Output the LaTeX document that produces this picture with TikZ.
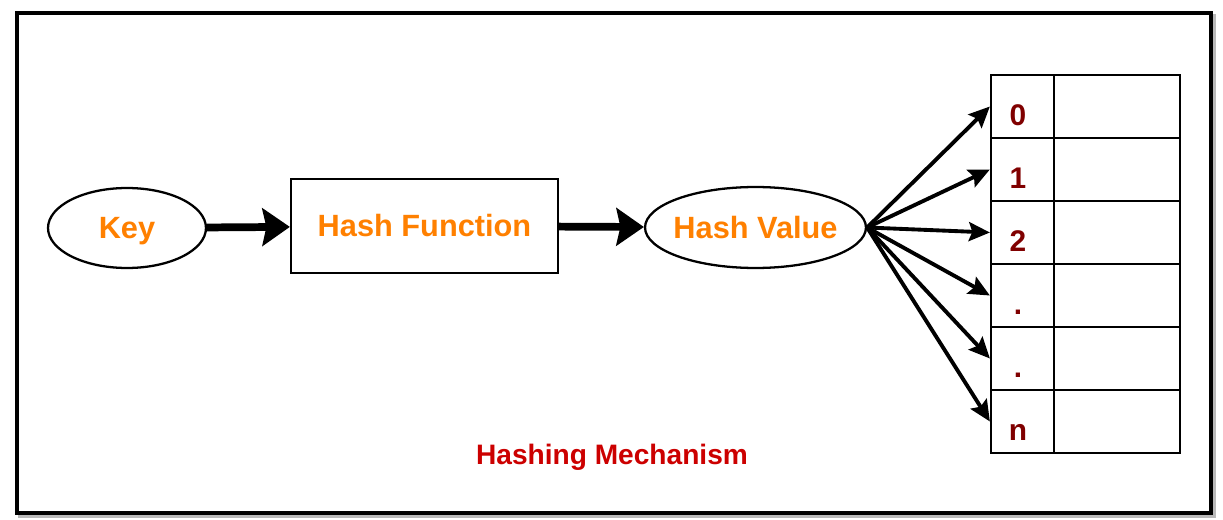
\documentclass[tikz,border=0pt]{standalone}
\usepackage{fontspec}
\setmainfont{Liberation Sans}
\usetikzlibrary{positioning}
\usetikzlibrary{shapes.geometric}
\usetikzlibrary{arrows.meta}

\definecolor{keyorange}{RGB}{255,128,0}
\definecolor{idxred}{RGB}{128,0,0}
\definecolor{capred}{RGB}{204,0,0}

\begin{document}
\begin{tikzpicture}[x=0.02cm,y=-0.02cm,
  oval/.style={ellipse,draw,line width=1.3pt,inner sep=0pt,text depth=0pt,text=keyorange,font=\fontsize{17.5}{20}\selectfont\bfseries},
  funcbox/.style={rectangle,draw,line width=1.3pt,inner sep=0pt,text=keyorange,font=\fontsize{17.5}{20}\selectfont\bfseries},
  cell/.style={rectangle,draw,line width=1.3pt,inner sep=0pt,minimum height=1.26cm},
  idx/.style={text=idxred,inner sep=0pt,font=\fontsize{17}{20}\selectfont\bfseries},
  bigarrow/.style={-{Stealth[length=0.55cm,width=0.75cm,inset=0.08cm]},line width=4.4pt},
  smallarrow/.style={-{Stealth[length=0.42cm,width=0.38cm,inset=0.07cm]},line width=2.2pt}]
 \useasboundingbox (0,0) rectangle (1223,520);
 % frame with its shadow
 \draw[gray!55,line width=2.5pt] (20,16) rectangle (1214,516);
 \draw[fill=white,line width=1.8pt] (17,13) rectangle (1211,513);

 \node[oval,minimum width=3.16cm,minimum height=1.6cm] (key) at (127,228) {Key};
 \node[funcbox,minimum width=5.34cm,minimum height=1.88cm] (hf) at (424.5,226) {Hash Function};
 \node[oval,inner xsep=-0.35cm,minimum width=4.42cm,minimum height=1.62cm] (hv) at (755.5,227.5) {Hash Value};

 \draw[bigarrow] (key) -- (hf);
 \draw[bigarrow] (hf) -- (hv);

 % the table
 \foreach \i/\t in {0/0,1/1,2/2,3/.,4/.,5/n}{
  \node[cell,minimum width=1.26cm] (c\i) at (1022.5,{106.5+63*\i}) {};
  \node[cell,minimum width=2.52cm] (v\i) at (1117,{106.5+63*\i}) {};
  \node[idx,anchor=base] (l\i) at (1018,{125.5+63*\i}) {\t};
 }
 \foreach \i in {0,...,5}
  \draw[smallarrow] (hv.east) -- (c\i.west);

 \node[text=capred,font=\fontsize{16}{19}\selectfont\bfseries] (cap) at (612,457) {Hashing Mechanism};
\end{tikzpicture}
\end{document}
